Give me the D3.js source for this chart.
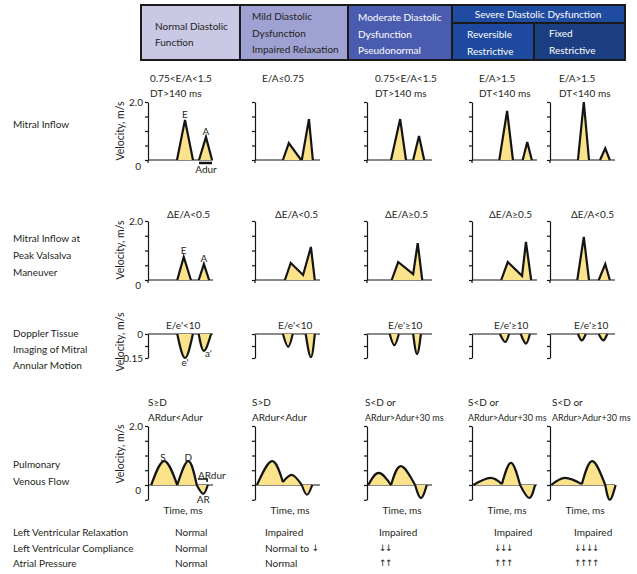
<!DOCTYPE html>
<html>
<head>
<meta charset="utf-8">
<script src="https://cdn.jsdelivr.net/npm/d3@7"></script>
<style>
  body { margin: 0; background: #fff; }
  text { font-family: Lato, "DejaVu Sans", sans-serif; fill: #231f20; }
  .arrow { font-family: "DejaVu Sans", sans-serif; font-size: 9px; letter-spacing: -1.5px; }
</style>
</head>
<body>
<div id="chart-area"></div>
<script>
// ---- data ----
var stages = ["Normal", "Mild", "Moderate", "Reversible", "Fixed"];

// mitral inflow waves, [time, velocity m/s], time in 0-100 per panel
var mitralInflow = [
  [[[44.6, 0], [56.9, 1.38], [69.2, 0]], [[78.5, 0], [89.2, 0.79], [98.5, 0]]],
  [[[43, 0], [52, 0.58], [71, 0]], [[72, 0], [83, 1.41], [89, 0]]],
  [[[37, 0], [51, 1.41], [60, 0]], [[71, 0], [80, 0.83], [88, 0]]],
  [[[42, 0], [54, 1.69], [63, 0]], [[78, 0], [85, 0.62], [92, 0]]],
  [[[43, 0], [52, 2.0], [60, 0]], [[77, 0], [85, 0.4], [92, 0]]]
];
var mitralCriteria = [
  ["0.75<E/A<1.5", "DT>140 ms"],
  ["E/A≤0.75"],
  ["0.75<E/A<1.5", "DT>140 ms"],
  ["E/A>1.5", "DT<140 ms"],
  ["E/A>1.5", "DT<140 ms"]
];

// mitral inflow at peak valsalva
var valsalva = [
  [[[45, 0], [55, 0.78], [66, 0]], [[78, 0], [86, 0.54], [94, 0]]],
  [[[46, 0], [55, 0.58], [74, 0.17], [86, 1.12], [92, 0]]],
  [[[38, 0], [48, 0.61], [71, 0.2], [78, 1.25], [85, 0]]],
  [[[45, 0], [55, 0.61], [77, 0.14], [83, 1.29], [91, 0]]],
  [[[42, 0], [52, 1.46], [60, 0]], [[75, 0], [85, 0.54], [92, 0]]]
];
var valsalvaCriteria = ["ΔE/A<0.5", "ΔE/A<0.5", "ΔE/A≥0.5", "ΔE/A≥0.5", "ΔE/A<0.5"];

// tissue doppler e' and a' (negative velocity, m/s)
var tissueDoppler = [
  [[[45, 0], [57, -0.15], [69, 0]], [[78, 0], [86, -0.105], [97, 0]]],
  [[[43, 0], [51, -0.08], [58, 0]], [[78, 0], [86, -0.145], [92, 0]]],
  [[[35, 0], [42, -0.07], [49, 0]], [[71, 0], [77, -0.125], [83, 0]]],
  [[[43, 0], [51, -0.05], [57, 0]], [[75, 0], [83, -0.06], [89, 0]]],
  [[[43, 0], [49, -0.04], [55, 0]], [[75, 0], [82, -0.04], [88, 0]]]
];
var tissueCriteria = ["E/e'<10", "E/e'<10", "E/e'≥10", "E/e'≥10", "E/e'≥10"];

// pulmonary venous flow: S, D and AR waves
var pulmonaryFlow = [
  [[[5, 0], [25, 0.81], [45, 0]], [[45, 0], [62, 0.81], [75, 0]], [[75, 0], [85, -0.3], [92, 0]]],
  [[[3, 0], [26, 0.81], [43, 0.1]], [[43, 0.1], [57, 0.34], [72, 0]], [[72, 0], [80, -0.33], [88, 0]]],
  [[[2, 0], [18, 0.41], [37, 0]], [[37, 0], [52, 0.64], [74, 0]], [[74, 0], [83, -0.44], [92, 0]]],
  [[[2, 0], [28, 0.24], [46, 0.03]], [[46, 0.03], [60, 0.75], [74, 0]], [[74, 0], [88, -0.44], [97, 0]]],
  [[[2, 0], [23, 0.24], [49, 0.03]], [[49, 0.03], [65, 0.81], [85, 0]], [[85, 0], [92, -0.5], [101, 0]]]
];
var pulmonaryCriteria = [
  ["S≥D", "ARdur<Adur"],
  ["S>D", "ARdur<Adur"],
  ["S<D or", "ARdur>Adur+30 ms"],
  ["S<D or", "ARdur>Adur+30 ms"],
  ["S<D or", "ARdur>Adur+30 ms"]
];

var relaxation = ["Normal", "Impaired", "Impaired", "Impaired", "Impaired"];
var compliance = ["Normal", "Normal to ↓", "↓↓", "↓↓↓", "↓↓↓↓"];
var atrialPressure = ["Normal", "Normal", "↑↑", "↑↑↑", "↑↑↑↑"];

var velocityTicks = [0, 0.5, 1, 1.5, 2];
var tissueTicks = [-0.15, -0.075, 0];
var pulmonaryTicks = [-0.5, 0, 0.5, 1, 1.5, 2];

// ---- layout ----
var panelX = [148, 255, 367, 472, 550];
var panelW = 65;
var fs = "10px";
var waveFill = "#fbe38c";
var ink = "#141414";

var svg = d3.select("#chart-area")
  .append("svg")
  .attr("width", 637)
  .attr("height", 574);

function label(x, y, txt, anchor, color) {
  var t = svg.append("text")
    .attr("x", x)
    .attr("y", y)
    .attr("dominant-baseline", "central")
    .attr("text-anchor", anchor || "start")
    .attr("font-size", fs)
    .style("fill", color || "#231f20");
  // arrows need a font that has them, so they go in their own tspan
  txt.split(/([↑↓]+)/).forEach(function(part) {
    if (!part) return;
    var sp = t.append("tspan").text(part);
    if (/[↑↓]/.test(part)) sp.attr("class", "arrow");
  });
  return t;
}

// ---- header boxes ----
var header = svg.append("g");
header.append("rect").attr("x", 141).attr("y", 5).attr("width", 99).attr("height", 55).attr("fill", "#c9c9e6");
header.append("rect").attr("x", 240).attr("y", 5).attr("width", 108).attr("height", 55).attr("fill", "#a0a1d3");
header.append("rect").attr("x", 348).attr("y", 5).attr("width", 104).attr("height", 55).attr("fill", "#4a5cb0");
header.append("rect").attr("x", 452).attr("y", 5).attr("width", 173).attr("height", 18).attr("fill", "#1f4ba1");
header.append("rect").attr("x", 452).attr("y", 23).attr("width", 82).attr("height", 37).attr("fill", "#1d4a9f");
header.append("rect").attr("x", 534).attr("y", 23).attr("width", 91).attr("height", 37).attr("fill", "#1b3f82");
header.selectAll("rect")
  .attr("stroke", "#1a1a1a")
  .attr("stroke-width", 2);

label(155, 26, "Normal Diastolic");
label(155, 42, "Function");
label(252, 16, "Mild Diastolic");
label(252, 33, "Dysfunction");
label(252, 49, "Impaired Relaxation");
label(358, 17, "Moderate Diastolic", "start", "#fff");
label(358, 34, "Dysfunction", "start", "#fff");
label(358, 50, "Pseudonormal", "start", "#fff");
label(538, 14, "Severe Diastolic Dysfunction", "middle", "#fff");
label(467, 34, "Reversible", "start", "#fff");
label(467, 51, "Restrictive", "start", "#fff");
label(549, 33, "Fixed", "start", "#fff");
label(549, 50, "Restrictive", "start", "#fff");

// ---- row labels ----
label(13, 124, "Mitral Inflow");
label(13, 238, "Mitral Inflow at");
label(13, 255, "Peak Valsalva");
label(13, 272, "Maneuver");
label(13, 333, "Doppler Tissue");
label(13, 349, "Imaging of Mitral");
label(13, 365, "Annular Motion");
label(13, 464, "Pulmonary");
label(13, 481, "Venous Flow");

// ---- helpers ----
function xScale(i) {
  return d3.scaleLinear().domain([0, 100]).range([panelX[i], panelX[i] + panelW]);
}

function drawWave(x, y, pts, curve) {
  var area = d3.area()
    .x(function(d) { return x(d[0]); })
    .y0(y(0))
    .y1(function(d) { return y(d[1]); })
    .curve(curve);
  var line = d3.line()
    .x(function(d) { return x(d[0]); })
    .y(function(d) { return y(d[1]); })
    .curve(curve);
  svg.append("path").attr("d", area(pts)).attr("fill", waveFill);
  svg.append("path").attr("d", line(pts))
    .attr("fill", "none")
    .attr("stroke", ink)
    .attr("stroke-width", 2.2)
    .attr("stroke-linejoin", "miter");
}

function drawAxes(i, y, ticks, originTick) {
  var x = xScale(i);
  svg.append("g")
    .attr("transform", "translate(" + panelX[i] + ",0)")
    .call(d3.axisLeft(y).tickValues(ticks).tickSize(3).tickSizeOuter(0).tickFormat(""))
    .call(function(g) {
      g.selectAll("path, line").attr("stroke", ink).attr("stroke-width", 1.2);
    });
  svg.append("line")
    .attr("x1", x(0)).attr("x2", x(100))
    .attr("y1", y(0)).attr("y2", y(0))
    .attr("stroke", ink).attr("stroke-width", 1.2);
  if (originTick) {
    svg.append("line")
      .attr("x1", x(0)).attr("x2", x(0))
      .attr("y1", y(0)).attr("y2", y(0) + 3)
      .attr("stroke", ink).attr("stroke-width", 1.2);
  }
  return x;
}

function yLabel(cy) {
  svg.append("text")
    .attr("transform", "translate(120," + cy + ") rotate(-90)")
    .attr("text-anchor", "middle")
    .attr("dominant-baseline", "central")
    .attr("font-size", "10.5px")
    .text("Velocity, m/s");
}

// ---- row 1: mitral inflow ----
var y1 = d3.scaleLinear().domain([0, 2]).range([160, 102]);
var crit1X = [150, 262, 375, 479, 559];
stages.forEach(function(s, i) {
  var x = drawAxes(i, y1, velocityTicks, true);
  mitralInflow[i].forEach(function(w) { drawWave(x, y1, w, d3.curveLinear); });
  mitralCriteria[i].forEach(function(t, k) { label(crit1X[i], 78 + k * 15, t); });
});
yLabel(131);
label(143, 102, "2.0", "end");
label(141, 166, "0", "end");
var xa = xScale(0);
label(xa(56.9), 114, "E", "middle");
label(xa(89.2), 131, "A", "middle");
svg.append("line")
  .attr("x1", xa(mitralInflow[0][1][0][0])).attr("x2", xa(mitralInflow[0][1][2][0]))
  .attr("y1", 163).attr("y2", 163)
  .attr("stroke", ink).attr("stroke-width", 2.5);
label(xa(89.2), 169, "Adur", "middle");

// ---- row 2: valsalva ----
var y2 = d3.scaleLinear().domain([0, 2]).range([280, 221]);
var crit2X = [167, 275, 385, 489, 571];
stages.forEach(function(s, i) {
  var x = drawAxes(i, y2, velocityTicks, true);
  valsalva[i].forEach(function(w) { drawWave(x, y2, w, d3.curveLinear); });
  label(crit2X[i], 214, valsalvaCriteria[i]);
});
yLabel(250);
label(143, 221, "2.0", "end");
label(141, 285, "0", "end");
label(xa(55), 250, "E", "middle");
label(xa(86), 258, "A", "middle");

// ---- row 3: tissue doppler ----
var y3 = d3.scaleLinear().domain([-0.15, 0]).range([358, 334]);
var crit3X = [166, 278, 388, 494, 574];
stages.forEach(function(s, i) {
  var x = drawAxes(i, y3, tissueTicks, false);
  tissueDoppler[i].forEach(function(w) { drawWave(x, y3, w, d3.curveNatural); });
  label(crit3X[i], 325, tissueCriteria[i]);
});
yLabel(342);
label(143, 334, "0", "end");
label(143, 358, "0.15", "end");
label(xa(57), 362, "e'", "middle");
label(xa(93), 353, "a'", "middle");

// ---- row 4: pulmonary venous flow ----
var y4 = d3.scaleLinear().domain([-0.5, 2]).range([499.75, 426]);
var crit4X = [148, 252, 365, 468, 552];
stages.forEach(function(s, i) {
  var x = drawAxes(i, y4, pulmonaryTicks, false);
  pulmonaryFlow[i].forEach(function(w) { drawWave(x, y4, w, d3.curveNatural); });
  pulmonaryCriteria[i].forEach(function(t, k) {
    var lt = label(crit4X[i], 402 + k * 15, t);
    // long criterion set a little smaller so it fits the width it has in the original
    if (t.length > 12) lt.attr("font-size", "9px");
  });
  label(panelX[i] + 35, 510, "Time, ms", "middle");
});
yLabel(454);
label(143, 426, "2.0", "end");
label(141, 490, "0", "end");
label(xa(23), 457, "S", "middle");
label(xa(62), 457, "D", "middle");
svg.append("path")
  .attr("d", "M" + xa(77) + "," + y4(0.2) + "H" + xa(91) + "V" + (y4(0.2) + 3))
  .attr("fill", "none").attr("stroke", ink).attr("stroke-width", 1.5);
label(xa(77), 475, "ARdur");
label(xa(85), 499, "AR", "middle");

// ---- bottom table ----
var colX = [175, 265, 379, 494, 574];
label(13, 532, "Left Ventricular Relaxation");
label(13, 548, "Left Ventricular Compliance");
label(13, 563, "Atrial Pressure");
stages.forEach(function(s, i) {
  label(colX[i], 532, relaxation[i]);
  label(colX[i], 548, compliance[i]);
  label(colX[i], 563, atrialPressure[i]);
});
</script>
</body>
</html>
